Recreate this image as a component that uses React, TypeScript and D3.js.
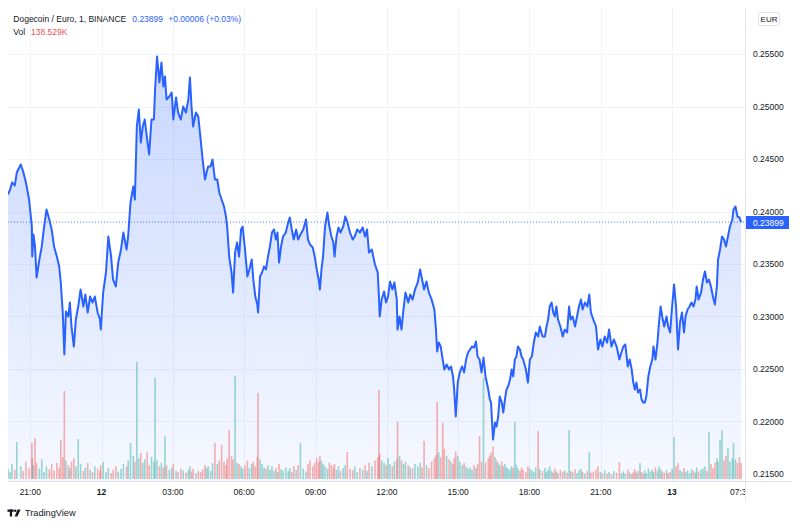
import React from "react";
import * as d3 from "d3";

// minutes since 20:00 on the 11th
const minutes = [
  4, 9, 14, 21, 26, 36, 42, 49, 57, 64,
  65, 68, 72, 76, 83, 89, 95, 101, 108, 114,
  120, 127, 133, 137, 142, 146, 150, 156, 160, 164,
  170, 175, 181, 187, 194, 199, 205, 211, 217, 223,
  230, 236, 238, 244, 251, 257, 264, 269, 276, 282,
  289, 295, 303, 307, 313, 320, 324, 329, 334, 339,
  344, 349, 355, 360, 366, 372, 375, 380, 386, 391,
  396, 400, 404, 411, 417, 421, 428, 433, 440, 446,
  453, 459, 463, 467, 471, 478, 484, 490, 495, 501,
  505, 509, 515, 520, 526, 532, 537, 543, 549, 554,
  557, 562, 568, 572, 577, 582, 587, 592, 596, 602,
  608, 613, 619, 623, 628, 633, 635, 640, 645, 650,
  655, 660, 665, 670, 675, 680, 684, 688, 693, 698,
  705, 711, 715, 720, 725, 731, 736, 742, 749, 756,
  761, 766, 773, 778, 783, 788, 791, 795, 799, 804,
  810, 815, 820, 825, 828, 833, 838, 843, 850, 855,
  860, 867, 874, 879, 885, 892, 899, 905, 910, 915,
  922, 930, 937, 940, 942, 947, 953, 958, 963, 968,
  974, 979, 985, 987, 992, 997, 1002, 1007, 1014, 1019,
  1025, 1031, 1038, 1044, 1049, 1054, 1060, 1066, 1073, 1080,
  1084, 1087, 1091, 1096, 1101, 1105, 1111, 1117, 1122, 1127,
  1130, 1134, 1139, 1144, 1150, 1155, 1160, 1165, 1170, 1175,
  1180, 1185, 1189, 1194, 1199, 1204, 1209, 1216, 1220, 1223,
  1228, 1233, 1237, 1241, 1245, 1250, 1254, 1258, 1262, 1266,
  1271, 1275, 1279, 1283, 1287, 1291, 1296, 1300, 1304, 1311,
  1316, 1321, 1326, 1331, 1336, 1342, 1346, 1353, 1359, 1363,
  1367, 1371, 1376, 1380, 1384, 1388, 1392, 1398, 1404, 1409,
  1415, 1420, 1424, 1429, 1435, 1440, 1445, 1450, 1454, 1460,
  1466, 1471, 1475, 1481, 1488, 1493, 1499, 1504, 1510, 1516,
  1521, 1527, 1533, 1540, 1547, 1552, 1557, 1562, 1568, 1573,
  1578, 1582, 1586, 1590, 1594, 1599, 1603, 1607, 1611, 1615,
  1620, 1625, 1630, 1633, 1638, 1643, 1647, 1651, 1655, 1660,
  1666, 1670, 1675, 1680, 1685, 1690, 1695, 1700, 1705, 1710,
  1714, 1719, 1724, 1729, 1734, 1739, 1742, 1747, 1753, 1758,
  1763, 1768, 1773, 1778, 1783, 1788, 1793, 1796, 1801, 1806,
  1811, 1816, 1821, 1826, 1832, 1835, 1840, 1845, 1850, 1854,
];

const prices = [
  0.24162, 0.24209, 0.24276, 0.24248, 0.24371, 0.24448, 0.24381, 0.24276, 0.24114, 0.23857,
  0.23571, 0.23781, 0.23667, 0.23371, 0.23543, 0.23667, 0.23857, 0.24019, 0.23924, 0.23829,
  0.23667, 0.23571, 0.23476, 0.23324, 0.23038, 0.22638, 0.23048, 0.23, 0.23133, 0.22905,
  0.22714, 0.22971, 0.23095, 0.23257, 0.23095, 0.23209, 0.23038, 0.2319, 0.23133, 0.2319,
  0.23038, 0.22971, 0.22876, 0.23228, 0.23419, 0.23762, 0.23571, 0.23352, 0.23286, 0.23514,
  0.23638, 0.238, 0.23638, 0.23762, 0.24086, 0.24238, 0.24114, 0.2481, 0.24971, 0.24657,
  0.2481, 0.24876, 0.24686, 0.24543, 0.24876, 0.24876, 0.25162, 0.25476, 0.25229, 0.25419,
  0.2519, 0.25286, 0.25067, 0.25095, 0.25133, 0.24876, 0.25086, 0.24943, 0.24876, 0.25,
  0.24943, 0.25067, 0.25276, 0.25, 0.2481, 0.24943, 0.24905, 0.24686, 0.24495, 0.24305,
  0.24371, 0.24429, 0.24429, 0.24495, 0.24305, 0.24305, 0.24181, 0.24114, 0.24048, 0.23952,
  0.23857, 0.23571, 0.23419, 0.23228, 0.23609, 0.23705, 0.23571, 0.23829, 0.23857, 0.23638,
  0.23381, 0.23448, 0.23543, 0.23352, 0.2319, 0.23114, 0.23038, 0.23381, 0.23419, 0.23476,
  0.23448, 0.23571, 0.23667, 0.238, 0.23829, 0.23733, 0.238, 0.23514, 0.23667, 0.23762,
  0.238, 0.23895, 0.23943, 0.23829, 0.23733, 0.23829, 0.23733, 0.23781, 0.23829, 0.23924,
  0.23733, 0.23686, 0.23657, 0.23571, 0.23448, 0.23352, 0.23257, 0.23448, 0.23571, 0.23857,
  0.2399, 0.23857, 0.23762, 0.23705, 0.23571, 0.23762, 0.23848, 0.238, 0.23857, 0.23952,
  0.23905, 0.238, 0.23733, 0.23762, 0.23829, 0.238, 0.23848, 0.23762, 0.23829, 0.23609,
  0.23638, 0.23495, 0.23419, 0.2319, 0.23, 0.23162, 0.23238, 0.23133, 0.2319, 0.23333,
  0.23257, 0.23324, 0.23162, 0.22876, 0.23, 0.22876, 0.23067, 0.23228, 0.23133, 0.23209,
  0.23162, 0.23257, 0.23324, 0.23448, 0.23352, 0.23257, 0.23333, 0.23228, 0.23162, 0.23067,
  0.22876, 0.22667, 0.22752, 0.22714, 0.2259, 0.22495, 0.22543, 0.22495, 0.22524, 0.22429,
  0.22305, 0.22048, 0.22371, 0.22467, 0.22524, 0.22467, 0.2259, 0.22657, 0.22686, 0.22714,
  0.22705, 0.22762, 0.22619, 0.2259, 0.22467, 0.22609, 0.22429, 0.22305, 0.22209, 0.22181,
  0.21828, 0.2199, 0.21952, 0.22048, 0.22238, 0.22181, 0.22086, 0.22209, 0.22305, 0.22333,
  0.224, 0.22495, 0.22429, 0.2259, 0.22619, 0.22714, 0.22686, 0.22619, 0.2259, 0.22495,
  0.22371, 0.2259, 0.22619, 0.22752, 0.22848, 0.22809, 0.22905, 0.22809, 0.22809, 0.22905,
  0.22971, 0.23095, 0.23133, 0.23038, 0.23, 0.23095, 0.22971, 0.22905, 0.22809, 0.22876,
  0.22848, 0.23095, 0.22971, 0.23, 0.22905, 0.23, 0.23095, 0.23162, 0.23067, 0.23133,
  0.23095, 0.23209, 0.23038, 0.22971, 0.22905, 0.22686, 0.22781, 0.22714, 0.22809, 0.22752,
  0.22876, 0.22714, 0.22781, 0.22714, 0.2259, 0.22657, 0.22714, 0.22733, 0.22524, 0.2259,
  0.22495, 0.22371, 0.22305, 0.22371, 0.22276, 0.22305, 0.22209, 0.22181, 0.22181, 0.22238,
  0.22429, 0.22524, 0.2259, 0.22714, 0.2259, 0.22752, 0.22943, 0.23095, 0.23, 0.22905,
  0.23, 0.22905, 0.22848, 0.23095, 0.23305, 0.23095, 0.22686, 0.22943, 0.23038, 0.22848,
  0.23, 0.23067, 0.23095, 0.23133, 0.23095, 0.23162, 0.23286, 0.23162, 0.23228, 0.23352,
  0.23429, 0.23324, 0.23352, 0.23286, 0.2319, 0.23114, 0.23286, 0.23543, 0.23638, 0.23762,
  0.23733, 0.23667, 0.23762, 0.23857, 0.23924, 0.24019, 0.24048, 0.23952, 0.23943, 0.23899,
];

// volume in thousands, one per price point
const volumes = [
  90, 60, 130, 80, 320, 110, 70, 150, 95, 312,
  180, 120, 355, 140, 90, 170, 60, 110, 85, 130,
  75, 140, 100, 338, 190, 762, 160, 120, 95, 150,
  180, 110, 346, 130, 70, 100, 140, 80, 60, 110,
  90, 70, 120, 147, 60, 95, 50, 80, 110, 65,
  90, 130, 110, 160, 312, 200, 150, 1013, 180, 225,
  140, 170, 234, 120, 190, 150, 875, 160, 110, 140,
  100, 372, 120, 80, 95, 130, 70, 60, 90, 75,
  55, 80, 110, 65, 90, 50, 70, 60, 85, 120,
  95, 110, 70, 140, 312, 130, 160, 294, 150, 120,
  180, 424, 200, 170, 892, 140, 130, 110, 90, 120,
  160, 95, 130, 150, 110, 190, 745, 170, 130, 100,
  90, 120, 80, 110, 70, 95, 60, 130, 85, 75,
  100, 70, 95, 60, 110, 80, 120, 312, 90, 65,
  130, 160, 110, 140, 180, 150, 200, 160, 130, 110,
  90, 140, 120, 100, 130, 80, 110, 70, 95, 120,
  234, 90, 75, 110, 60, 95, 80, 120, 70, 140,
  110, 160, 190, 771, 220, 160, 140, 120, 180, 130,
  110, 150, 170, 494, 200, 160, 130, 150, 120, 100,
  90, 130, 110, 140, 100, 329, 120, 95, 150, 180,
  210, 667, 230, 190, 485, 260, 200, 170, 150, 130,
  180, 240, 200, 150, 120, 140, 110, 90, 100, 80,
  120, 95, 130, 372, 150, 875, 140, 180, 200, 230,
  280, 190, 160, 140, 120, 150, 110, 130, 100, 90,
  80, 110, 95, 494, 120, 90, 70, 100, 80, 60,
  110, 90, 75, 60, 100, 416, 85, 70, 95, 60,
  80, 110, 70, 55, 90, 65, 50, 80, 60, 75,
  55, 424, 70, 60, 85, 50, 75, 90, 60, 45,
  70, 234, 55, 65, 80, 110, 60, 50, 75, 45,
  60, 40, 70, 55, 147, 50, 65, 45, 80, 55,
  40, 60, 85, 55, 70, 139, 60, 45, 75, 50,
  90, 65, 80, 60, 100, 70, 110, 85, 65, 55,
  75, 50, 60, 90, 364, 110, 140, 80, 65, 95,
  60, 75, 50, 85, 70, 55, 100, 65, 80, 90,
  110, 70, 407, 130, 95, 140, 180, 150, 338, 424,
  160, 200, 268, 150, 180, 312, 170, 140, 190, 138.529,
];

const priceTicks = [0.215, 0.22, 0.225, 0.23, 0.235, 0.24, 0.245, 0.25, 0.255];
const timeTicks = [60, 240, 420, 600, 780, 960, 1140, 1320, 1500, 1680];
const timeLabels = ["21:00", "12", "03:00", "06:00", "09:00", "12:00", "15:00", "18:00", "21:00", "13"];
const dayLabels = ["12", "13"];
const lastTimeLabel = "07:30";

const W = 800;
const H = 527;
const left = 8;
const right = 745;
const top = 8;
const bottom = 481;
const font = "'Liberation Sans', Arial, sans-serif";
const textColor = "#131722";
const blue = "#2962FF";

const App = () => {
  const x = d3.scaleLinear().domain([0, 1864]).range([6.5, right]);
  const y = d3.scaleLinear().domain([0.215, 0.255]).range([474, 54]);
  const yVol = d3.scaleLinear().domain([0, 1000]).range([479, 363.5]);

  const points: [number, number][] = minutes.map((m, i) => [m, prices[i]]);

  const line = d3
    .line<[number, number]>()
    .x((d) => x(d[0]))
    .y((d) => y(d[1]));
  const area = d3
    .area<[number, number]>()
    .x((d) => x(d[0]))
    .y0(bottom)
    .y1((d) => y(d[1]));

  const last = prices[prices.length - 1];
  const lastVol = volumes[volumes.length - 1];
  const fmt = d3.format(".5f");

  return (
    <div style={{ position: "absolute", left: 0, top: 0 }}>
      <svg width={W} height={H} style={{ display: "block", background: "#fff" }} fontFamily={font}>
        <defs>
          <linearGradient id="areaFill" gradientUnits="userSpaceOnUse" x1="0" y1="54" x2="0" y2={bottom}>
            <stop offset="0%" stopColor={blue} stopOpacity={0.26} />
            <stop offset="100%" stopColor={blue} stopOpacity={0.04} />
          </linearGradient>
          <clipPath id="pane">
            <rect x={left} y={top} width={right - left} height={bottom - top} />
          </clipPath>
          <clipPath id="timeAxis">
            <rect x={0} y={bottom} width={right} height={30} />
          </clipPath>
        </defs>

        {/* grid */}
        <g stroke="#f0f3fa" strokeWidth={1}>
          {priceTicks.map((t) => (
            <line key={t} x1={left} x2={right} y1={Math.round(y(t)) + 0.5} y2={Math.round(y(t)) + 0.5} />
          ))}
          {timeTicks.map((t) => (
            <line key={t} x1={Math.round(x(t)) + 0.5} x2={Math.round(x(t)) + 0.5} y1={top} y2={bottom} />
          ))}
        </g>

        <g clipPath="url(#pane)">
          <path d={area(points) || ""} fill="url(#areaFill)" />
          {volumes.map((v, i) => {
            const up = i === 0 || prices[i] >= prices[i - 1];
            return (
              <rect
                key={i}
                x={x(minutes[i]) - 0.8}
                y={yVol(v)}
                width={1.6}
                height={yVol(0) - yVol(v)}
                fill={up ? "rgba(38,166,154,0.45)" : "rgba(239,83,80,0.45)"}
              />
            );
          })}
          <line
            x1={left}
            x2={right}
            y1={y(last)}
            y2={y(last)}
            stroke={blue}
            strokeWidth={1}
            strokeDasharray="1 2"
            opacity={0.8}
          />
          <path d={line(points) || ""} fill="none" stroke={blue} strokeWidth={2} strokeLinejoin="round" />
        </g>

        {/* axis borders */}
        <line x1={right + 0.5} x2={right + 0.5} y1={top} y2={500} stroke="#e0e3eb" />
        <line x1={left} x2={792} y1={bottom + 0.5} y2={bottom + 0.5} stroke="#e0e3eb" />

        {/* price axis */}
        <g fontSize={8.5} fill={textColor}>
          {priceTicks.map((t) => (
            <text key={t} x={753} y={y(t) + 3}>
              {fmt(t)}
            </text>
          ))}
        </g>
        <rect x={746} y={216} width={43} height={13} fill={blue} />
        <text x={753} y={225.6} fontSize={8.5} fill="#fff">
          {fmt(last)}
        </text>
        <rect x={758.5} y={12.5} width={21} height={13} rx={2.5} fill="#fff" stroke="#e0e3eb" />
        <text x={769} y={21.8} fontSize={8} fill={textColor} textAnchor="middle">
          EUR
        </text>

        {/* time axis */}
        <g fontSize={8.5} fill={textColor} textAnchor="middle">
          {timeTicks.map((t, i) => (
            <text key={t} x={x(t)} y={495} fontWeight={dayLabels.includes(timeLabels[i]) ? "bold" : "normal"}>
              {timeLabels[i]}
            </text>
          ))}
        </g>
        <text x={730} y={495} fontSize={8.5} fill={textColor} clipPath="url(#timeAxis)">
          {lastTimeLabel}
        </text>

        {/* legend */}
        <text x={13.3} y={22} fontSize={8.5} fill={textColor}>
          Dogecoin / Euro, 1, BINANCE
        </text>
        <text x={132.3} y={22} fontSize={8.5} fill={blue}>
          {fmt(last)}
        </text>
        <text x={168.3} y={22} fontSize={8.5} fill={blue}>
          +0.00006 (+0.03%)
        </text>
        <text x={13.3} y={34.5} fontSize={8.5} fill={textColor}>
          Vol
        </text>
        <text x={31} y={34.5} fontSize={8.5} fill="#ef5350">
          {lastVol.toFixed(3)}K
        </text>

        {/* TradingView logo */}
        <g fill={textColor}>
          <rect x={7.5} y={509.5} width={6.2} height={2.3} />
          <rect x={9.8} y={509.5} width={2.3} height={7} />
          <circle cx={15.3} cy={510.7} r={1.2} />
          <polygon points="17.6,509.5 20.6,509.5 17.4,516.5 14.6,516.5" />
        </g>
        <text x={25} y={516} fontSize={9.2} fill={textColor}>
          TradingView
        </text>
      </svg>
    </div>
  );
};

export default App;
